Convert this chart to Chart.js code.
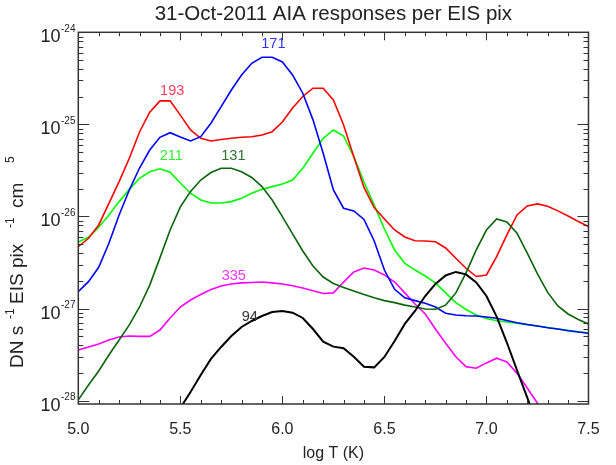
<!DOCTYPE html>
<html><head><meta charset="utf-8">
<script src="https://cdn.jsdelivr.net/npm/chart.js@4/dist/chart.umd.min.js"></script>
<style>html,body{margin:0;padding:0;background:#fff;}canvas{display:block;}</style>
</head><body>
<canvas id="c" width="616" height="465"></canvas>
<script>
const FONT = '"Liberation Sans", Arial, Helvetica, sans-serif';

const logT = [5.00,5.05,5.10,5.15,5.20,5.25,5.30,5.35,5.40,5.45,5.50,5.55,5.60,5.65,5.70,5.75,5.80,5.85,5.90,5.95,
  6.00,6.05,6.10,6.15,6.20,6.25,6.30,6.35,6.40,6.45,6.50,6.55,6.60,6.65,6.70,6.75,6.80,6.85,6.90,6.95,
  7.00,7.05,7.10,7.15,7.20,7.25,7.30,7.35,7.40,7.45,7.50];

const aia94 = [null,null,null,null,null,null,null,null,2.9e-29,4.9e-29,
  8.33e-29,1.24e-28,1.90e-28,2.84e-28,3.83e-28,5.04e-28,6.31e-28,7.33e-28,8.31e-28,9.19e-28,
  9.42e-28,9.03e-28,7.91e-28,6.00e-28,4.37e-28,3.86e-28,3.71e-28,3.00e-28,2.34e-28,2.30e-28,
  2.98e-28,4.45e-28,6.81e-28,9.42e-28,1.37e-27,1.85e-27,2.29e-27,2.50e-27,2.35e-27,1.92e-27,
  1.37e-27,8.17e-28,4.28e-28,2.13e-28,1.08e-28,5.4e-29,2.8e-29,1.5e-29,null,null,null];

const aia131 = [1.02e-28,1.48e-28,2.10e-28,3.13e-28,4.56e-28,6.64e-28,1.04e-27,1.80e-27,3.55e-27,7.13e-27,
  1.27e-26,1.87e-26,2.49e-26,3.00e-26,3.34e-26,3.34e-26,3.06e-26,2.65e-26,2.11e-26,1.51e-26,
  9.95e-27,6.46e-27,4.22e-27,2.90e-27,2.20e-27,1.87e-27,1.69e-27,1.55e-27,1.42e-27,1.31e-27,
  1.22e-27,1.16e-27,1.09e-27,1.04e-27,9.90e-28,9.83e-28,1.09e-27,1.48e-27,2.44e-27,4.33e-27,
  7.13e-27,9.40e-27,8.72e-27,6.57e-27,3.99e-27,2.38e-27,1.50e-27,1.07e-27,8.74e-28,7.62e-28,6.81e-28];

const aia171 = [1.53e-27,1.96e-27,2.81e-27,5.12e-27,1.04e-26,1.94e-26,3.36e-26,5.27e-26,7.24e-26,8.13e-26,
  7.30e-26,6.61e-26,7.35e-26,1.03e-25,1.56e-25,2.36e-25,3.44e-25,4.61e-25,5.35e-25,5.35e-25,
  4.76e-25,3.44e-25,2.18e-25,1.12e-25,4.86e-26,1.94e-26,1.23e-26,1.15e-26,9.28e-27,5.42e-27,
  2.62e-27,1.62e-27,1.31e-27,1.22e-27,1.14e-27,1.04e-27,8.89e-28,8.52e-28,8.37e-28,8.31e-28,
  8.11e-28,7.85e-28,7.43e-28,7.03e-28,6.72e-28,6.47e-28,6.20e-28,6.00e-28,5.75e-28,5.57e-28,5.39e-28];

const aia193 = [4.70e-27,5.80e-27,8.09e-27,1.39e-26,2.39e-26,4.29e-26,8.27e-26,1.36e-25,1.80e-25,1.80e-25,
  1.26e-25,8.70e-26,7.07e-26,6.60e-26,6.85e-26,7.07e-26,7.24e-26,7.35e-26,7.67e-26,8.33e-26,
  1.06e-25,1.51e-25,2.01e-25,2.47e-25,2.47e-25,1.84e-25,9.85e-26,4.46e-26,2.07e-26,1.25e-26,
  9.40e-27,7.13e-27,5.99e-27,5.46e-27,5.42e-27,5.32e-27,4.55e-27,3.52e-27,2.74e-27,2.23e-27,
  2.32e-27,3.66e-27,6.30e-27,1.04e-26,1.30e-26,1.37e-26,1.29e-26,1.15e-26,1.01e-26,8.82e-27,7.79e-27];

const aia211 = [5.28e-27,5.95e-27,7.63e-27,1.04e-26,1.45e-26,1.97e-26,2.60e-26,3.06e-26,3.30e-26,3.02e-26,
  2.31e-26,1.79e-26,1.51e-26,1.40e-26,1.40e-26,1.45e-26,1.58e-26,1.79e-26,1.97e-26,2.11e-26,
  2.25e-26,2.49e-26,3.34e-26,4.86e-26,7.07e-26,8.70e-26,7.48e-26,4.46e-26,2.37e-26,1.33e-26,
  7.31e-27,4.33e-27,3.10e-27,2.62e-27,2.26e-27,1.90e-27,1.48e-27,1.16e-27,9.78e-28,8.52e-28,
  7.81e-28,7.39e-28,7.15e-28,6.92e-28,6.69e-28,6.47e-28,6.23e-28,6.00e-28,5.81e-28,5.61e-28,5.43e-28];

const aia335 = [3.55e-28,3.83e-28,4.13e-28,4.56e-28,4.91e-28,5.04e-28,4.99e-28,4.99e-28,5.85e-28,7.91e-28,
  1.04e-27,1.24e-27,1.42e-27,1.61e-27,1.76e-27,1.85e-27,1.90e-27,1.92e-27,1.94e-27,1.90e-27,
  1.85e-27,1.77e-27,1.67e-27,1.56e-27,1.46e-27,1.48e-27,1.94e-27,2.50e-27,2.76e-27,2.62e-27,
  2.32e-27,1.94e-27,1.48e-27,1.12e-27,8.74e-28,6.00e-28,4.20e-28,3.00e-28,2.34e-28,2.25e-28,
  2.57e-28,2.89e-28,2.63e-28,1.98e-28,1.37e-28,9.37e-29,6.5e-29,4.5e-29,3.1e-29,2.2e-29,1.5e-29];

const channelNames = ['94','131','171','193','211','335'];
const channelData  = [aia94, aia131, aia171, aia193, aia211, aia335];
const lineColors   = ['#000000','#0b640b','#0000ff','#ff0000','#00ff00','#ff00ff'];
const textColors   = ['#333333','#2f6f2f','#3333ff','#ff3d5f','#33ee33','#ff33ff'];
// label anchors in data units (logT, response)
const labelLogT = [5.84, 5.76, 5.956, 5.46, 5.456, 5.762];
const labelResp = [8.05e-28, 4.57e-26, 7.46e-25, 2.31e-25, 4.57e-26, 2.26e-27];

const titleText = '31-Oct-2011 AIA responses per EIS pix';
const xTitle = 'log T (K)';
const yTicks = [1e-28, 1e-27, 1e-26, 1e-25, 1e-24];
const xTickStep = 0.5;

const datasets = channelData.map((arr, i) => ({
  label: channelNames[i],
  data: logT.map((t, j) => ({x: t, y: arr[j]})),
  borderColor: lineColors[i],
  borderWidth: i === 0 ? 2 : 1.6,
  pointRadius: 0,
  fill: false,
  tension: 0,
  spanGaps: false
}));

const decor = {
  id: 'decor',
  afterDraw(chart) {
    const {ctx, chartArea: a, scales: {x, y}} = chart;
    ctx.save();
    ctx.strokeStyle = '#333';
    ctx.lineWidth = 1;
    ctx.beginPath();
    for (let i = 0; i <= 25; i++) {
      const v = x.min + i * 0.1;
      const px = Math.round(x.getPixelForValue(v)) + 0.5;
      const len = (i % 5 === 0) ? 8 : 4;
      ctx.moveTo(px, a.bottom); ctx.lineTo(px, a.bottom - len);
      ctx.moveTo(px, a.top); ctx.lineTo(px, a.top + len);
    }
    for (let e = -29; e <= -24; e++) {
      for (let m = 1; m <= 9; m++) {
        const v = m * Math.pow(10, e);
        if (v < y.min * 0.999 || v > y.max * 1.001) continue;
        const py = Math.round(y.getPixelForValue(v)) + 0.5;
        const len = m === 1 ? 11 : 5;
        ctx.moveTo(a.left, py); ctx.lineTo(a.left + len, py);
        ctx.moveTo(a.right, py); ctx.lineTo(a.right - len, py);
      }
    }
    ctx.stroke();
    ctx.lineWidth = 1.5;
    ctx.strokeRect(a.left, a.top, a.right - a.left, a.bottom - a.top);

    // y tick labels: 10 with raised exponent, at the scale's own tick positions
    ctx.fillStyle = '#222';
    ctx.textBaseline = 'middle';
    y.ticks.forEach(t => {
      const py = y.getPixelForValue(t.value) + 5;
      const e = Math.round(Math.log10(t.value));
      ctx.font = '18px ' + FONT;
      ctx.textAlign = 'right';
      ctx.fillText('10', 60.5, py);
      ctx.font = '10px ' + FONT;
      ctx.textAlign = 'left';
      ctx.fillText(String(e), 61, py - 8.5);
    });

    // curve labels
    ctx.font = '14.5px ' + FONT;
    ctx.textAlign = 'center';
    ctx.textBaseline = 'middle';
    channelNames.forEach((n, i) => {
      ctx.fillStyle = textColors[i];
      ctx.fillText(n, x.getPixelForValue(labelLogT[i]), y.getPixelForValue(labelResp[i]));
    });

    // y axis title with superscripts (bottom-to-top)
    const parts = [['DN s', false, 0], ['-1', true, 49], ['EIS pix', false, 64], ['-1', true, 140], ['cm', false, 160], ['5', true, 205]];
    ctx.translate(18, 368);
    ctx.rotate(-Math.PI / 2);
    ctx.textAlign = 'left';
    ctx.textBaseline = 'middle';
    ctx.fillStyle = '#222';
    parts.forEach(([t, s, off]) => {
      ctx.font = (s ? '12px ' : '19px ') + FONT;
      ctx.fillText(t, off, s ? -7 : 0);
    });
    ctx.restore();
  }
};

new Chart(document.getElementById('c'), {
  type: 'line',
  data: {datasets},
  plugins: [decor],
  options: {
    responsive: false,
    animation: false,
    devicePixelRatio: 1,
    layout: {padding: {left: 0, right: 12.7, top: 0, bottom: 0}},
    plugins: {
      legend: {display: false},
      tooltip: {enabled: false},
      title: {display: true, text: titleText, color: '#222', fullSize: false,
        font: {family: FONT, size: 20.5, weight: 'normal', lineHeight: 1.2},
        padding: {top: 1.7, bottom: 6}}
    },
    scales: {
      x: {
        type: 'linear', min: 5, max: 7.5,
        ticks: {stepSize: xTickStep, callback: v => Number(v).toFixed(1), color: '#222',
          font: {family: FONT, size: 16}, padding: 16.4, maxRotation: 0, autoSkip: false},
        grid: {display: false, drawTicks: false}, border: {display: false},
        title: {display: true, text: xTitle, color: '#222', font: {family: FONT, size: 16, lineHeight: 1.2},
          padding: {top: 0, bottom: 1.5}},
        afterFit: s => { s.height = 61; }
      },
      y: {
        type: 'logarithmic', min: 9.2e-29, max: 1e-24,
        afterBuildTicks: s => { s.ticks = yTicks.map(v => ({value: v, major: true})); },
        ticks: {display: false, autoSkip: false},
        grid: {display: false, drawTicks: false}, border: {display: false},
        afterFit: s => { s.width = 78.3; }
      }
    }
  }
});
</script>
</body></html>
